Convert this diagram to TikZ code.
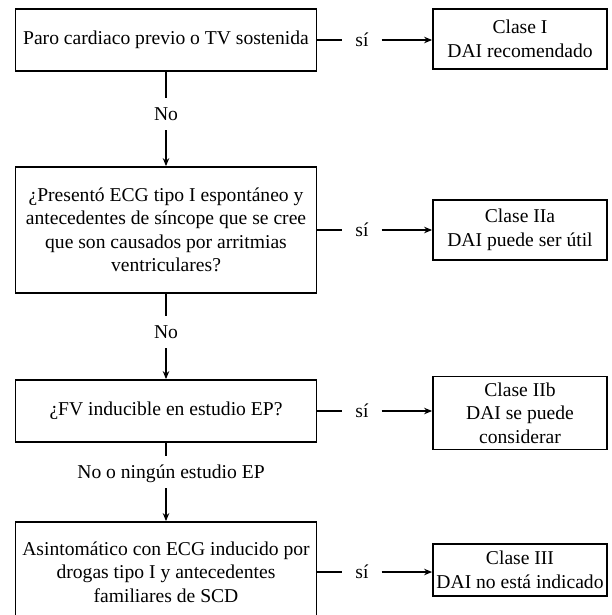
\documentclass[tikz,border=0pt]{standalone}
\usepackage{fontspec}
\setmainfont{Liberation Serif}
\usetikzlibrary{arrows.meta}
\begin{document}
\begin{tikzpicture}[x=1pt,y=-1pt,
  txt/.style={font=\fontsize{19.6}{23.5}\selectfont},
  box/.style={txt, draw, line width=1.8pt, inner sep=0pt, align=center},
  lbox/.style={box, minimum width=301pt},
  rbox/.style={box, minimum width=174pt},
  silab/.style={txt, inner ysep=0pt, inner xsep=13pt},
  nolab/.style={txt, inner xsep=0pt, inner ysep=9.5pt, text height=13pt, text depth=0pt},
  conn/.style={line width=1.2pt},
  arr/.style={conn, -{Stealth[length=8pt,width=6.5pt]}}]
\useasboundingbox (0,0) rectangle (611,615);
\clip (0,0) rectangle (611,615);

% left column
\node[lbox, minimum height=62pt] (b1) at (166,40) {Paro cardiaco previo o TV sostenida};
\node[lbox, minimum height=126pt] (b2) at (166,230) {¿Presentó ECG tipo I espontáneo y\\antecedentes de síncope que se cree\\que son causados por arritmias\\ventriculares?};
\node[lbox, minimum height=62pt] (b3) at (166,411) {¿FV inducible en estudio EP?};
\node[lbox, minimum height=100pt] (b4) at (166,572) {Asintomático con ECG inducido por\\drogas tipo I y antecedentes\\familiares de SCD};

% right column
\node[rbox, minimum height=60pt] (c1) at (520,39) {Clase I\\DAI recomendado};
\node[rbox, minimum height=60pt] (c2) at (520,230) {Clase IIa\\DAI puede ser útil};
\node[rbox, minimum height=73pt] (c3) at (520,413) {Clase IIb\\DAI se puede\\considerar};
\node[rbox, minimum height=52pt] (c4) at (520,570) {Clase III\\DAI no está indicado};

% si labels
\node[silab] (s1) at (362,40) {sí};
\node[silab] (s2) at (362,230) {sí};
\node[silab] (s3) at (362,411) {sí};
\node[silab] (s4) at (362,572) {sí};

% no labels
\node[nolab] (n1) at (166,114) {No};
\node[nolab] (n2) at (166,332) {No};
\node[nolab] (n3) at (171,472) {No o ningún estudio EP};

% horizontal connectors
\foreach \b/\s/\c in {b1/s1/c1, b2/s2/c2, b3/s3/c3, b4/s4/c4}{
  \draw[conn] (\b.east |- \s.west) -- (\s.west);
  \draw[arr] (\s.east) -- (\s.east -| \c.west);
}

% vertical connectors
\draw[conn] (b1.south) -- (n1.north);
\draw[arr] (n1.south) -- (b2.north);
\draw[conn] (b2.south) -- (n2.north);
\draw[arr] (n2.south) -- (b3.north);
\draw[conn] (b3.south) -- (b3.south |- n3.north);
\draw[arr] (b3.south |- n3.south) -- (b4.north);
\end{tikzpicture}
\end{document}
